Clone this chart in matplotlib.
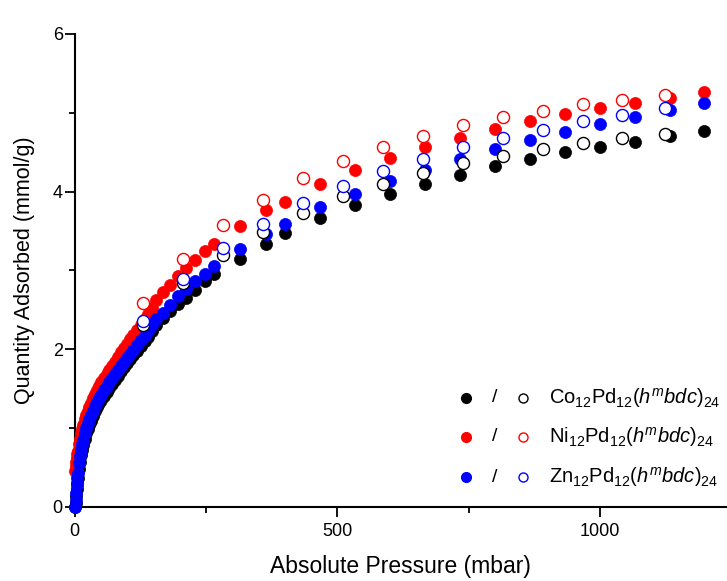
import matplotlib
matplotlib.use("Agg")
import matplotlib.pyplot as plt

plt.rcParams['font.family'] = ['Liberation Sans', 'DejaVu Sans']
plt.rcParams['mathtext.fontset'] = 'custom'
plt.rcParams['mathtext.rm'] = 'Liberation Sans'
plt.rcParams['mathtext.it'] = 'Liberation Sans:italic'
plt.rcParams['mathtext.bf'] = 'Liberation Sans:bold'

# ---------------- data (mbar, mmol/g) ----------------
# adsorption (filled symbols)
p_ads = [1, 2, 3, 4, 5, 6, 8, 10, 12, 14, 16, 19, 22, 25, 28, 31, 35, 39, 43, 47,
         51, 56, 61, 66, 71, 76, 82, 88, 94, 100, 106, 112, 119, 126, 133, 140, 147,
         155, 167.5, 181.5, 196, 212, 229, 248, 266, 315, 365, 400, 467, 534, 600,
         667, 734, 800, 867, 934, 1000, 1067, 1134, 1199]
co_ads = [0.00, 0.05, 0.13, 0.22, 0.30, 0.37, 0.48, 0.57, 0.65, 0.72, 0.78, 0.86, 0.93,
          0.99, 1.04, 1.09, 1.15, 1.21, 1.26, 1.31, 1.35, 1.41, 1.46, 1.51, 1.56, 1.61,
          1.66, 1.72, 1.77, 1.82, 1.87, 1.92, 1.98, 2.04, 2.10, 2.16, 2.23,
          2.31, 2.40, 2.48, 2.57, 2.65, 2.75, 2.86, 2.95, 3.15, 3.34, 3.47, 3.66, 3.83,
          3.97, 4.10, 4.21, 4.32, 4.41, 4.50, 4.57, 4.63, 4.71, 4.77]
ni_ads = [0.45, 0.52, 0.57, 0.62, 0.67, 0.71, 0.79, 0.86, 0.93, 0.99, 1.04, 1.11, 1.17,
          1.22, 1.27, 1.32, 1.38, 1.43, 1.48, 1.53, 1.58, 1.63, 1.69, 1.74, 1.79, 1.84,
          1.90, 1.96, 2.02, 2.07, 2.13, 2.18, 2.24, 2.30, 2.38, 2.44, 2.52,
          2.62, 2.72, 2.82, 2.93, 3.03, 3.13, 3.24, 3.34, 3.56, 3.76, 3.87, 4.10, 4.27,
          4.42, 4.56, 4.68, 4.79, 4.89, 4.98, 5.06, 5.13, 5.19, 5.26]
zn_ads = [0.00, 0.08, 0.18, 0.28, 0.36, 0.43, 0.55, 0.64, 0.72, 0.79, 0.85, 0.93, 1.00,
          1.06, 1.11, 1.16, 1.22, 1.28, 1.33, 1.38, 1.42, 1.48, 1.53, 1.58, 1.63, 1.68,
          1.73, 1.79, 1.84, 1.89, 1.94, 1.99, 2.05, 2.11, 2.17, 2.23, 2.30,
          2.38, 2.46, 2.56, 2.67, 2.76, 2.86, 2.95, 3.05, 3.27, 3.46, 3.59, 3.80, 3.97,
          4.13, 4.27, 4.41, 4.54, 4.65, 4.75, 4.86, 4.95, 5.04, 5.13]

# desorption (open symbols)
p_des = [131, 207, 283, 359, 435, 511, 588, 664, 739, 816, 891, 968, 1043, 1124]
co_des = [2.30, 2.84, 3.19, 3.49, 3.73, 3.94, 4.10, 4.24, 4.36, 4.45, 4.54, 4.61, 4.68, 4.73]
ni_des = [2.58, 3.15, 3.58, 3.89, 4.17, 4.39, 4.56, 4.71, 4.84, 4.94, 5.02, 5.11, 5.16, 5.22]
zn_des = [2.36, 2.89, 3.28, 3.59, 3.86, 4.07, 4.26, 4.41, 4.56, 4.68, 4.78, 4.90, 4.97, 5.06]

labels = [r'Co$_{12}$Pd$_{12}$($\mathit{h}^{\mathit{m}}\mathit{bdc}$)$_{24}$',
          r'Ni$_{12}$Pd$_{12}$($\mathit{h}^{\mathit{m}}\mathit{bdc}$)$_{24}$',
          r'Zn$_{12}$Pd$_{12}$($\mathit{h}^{\mathit{m}}\mathit{bdc}$)$_{24}$']
colors = ['#000000', '#ff0000', '#0000ff']

x_ticks = [0, 500, 1000]
y_ticks = [0, 2, 4, 6]

# ---------------- figure ----------------
fig = plt.figure(figsize=(7.27, 5.81), dpi=100)
ax = fig.add_axes([0.1027, 0.1279, 0.8973, 0.8136])

ads = [co_ads, ni_ads, zn_ads]
des = [co_des, ni_des, zn_des]
ms = 8.7
for q, c in zip(ads, colors):
    ax.plot(p_ads, q, 'o', color=c, ms=ms, mec=c, mew=0.5, clip_on=False, zorder=3)
for q, c in zip(des, colors):
    ax.plot(p_des, q, 'o', mfc='white', mec=c, ms=ms, mew=1.0, clip_on=False, zorder=4)

ax.set_xlim(0, 1242)
ax.set_ylim(0, 6)
ax.set_xticks(x_ticks)
ax.set_yticks(y_ticks)
ax.set_xticks([250, 750], minor=True)
ax.set_yticks([1, 3, 5], minor=True)
for s in ['top', 'right']:
    ax.spines[s].set_visible(False)
for s in ['left', 'bottom']:
    ax.spines[s].set_linewidth(1.5)
ax.tick_params(which='major', length=7, width=1.3, labelsize=13)
ax.tick_params(which='minor', length=4, width=1.3)
ax.tick_params(axis='x', pad=4.5)
ax.tick_params(axis='y', pad=1.5)

ax.set_xlabel('Absolute Pressure (mbar)', fontsize=16.5)
ax.set_ylabel('Quantity Adsorbed (mmol/g)', fontsize=15.5)
ax.xaxis.set_label_coords(0.5, -0.103)
ax.yaxis.set_label_coords(-0.061, 0.5)

# legend drawn by hand
rows_y = [0.230, 0.1475, 0.0628]
for yy, c, lab in zip(rows_y, colors, labels):
    ax.plot([0.600], [yy], 'o', color=c, ms=7, transform=ax.transAxes, clip_on=False)
    ax.text(0.6434, yy, '/', transform=ax.transAxes, ha='center', va='center', fontsize=14)
    ax.plot([0.688], [yy], 'o', mfc='white', mec=c, ms=6.5, mew=1.0,
            transform=ax.transAxes, clip_on=False)
    ax.text(0.727, yy, lab, transform=ax.transAxes, ha='left', va='center', fontsize=14.5)

fig.savefig('out.png', dpi=100)
